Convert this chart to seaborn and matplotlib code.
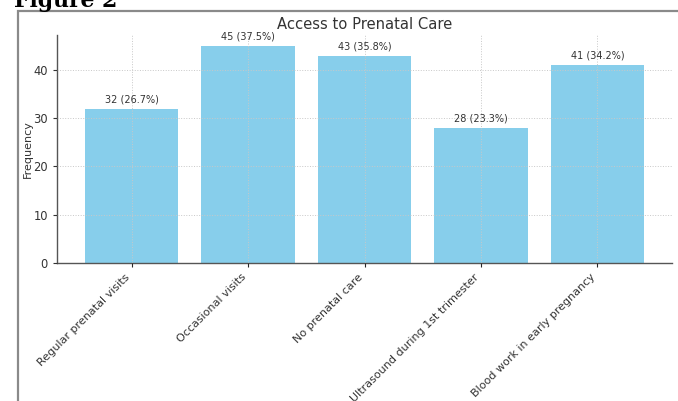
import matplotlib
matplotlib.use("Agg")
import matplotlib.pyplot as plt
import seaborn as sns
import pandas as pd
from matplotlib.patches import Rectangle

categories = ["Regular prenatal visits", "Occasional visits", "No prenatal care",
              "Ultrasound during 1st trimester", "Blood work in early pregnancy"]
counts = [32, 45, 43, 28, 41]
percents = [26.7, 37.5, 35.8, 23.3, 34.2]

df = pd.DataFrame({"category": categories, "count": counts})

sns.set_style("white")
W, H = 678, 401
fig = plt.figure(figsize=(W / 100, H / 100), dpi=100)

# page frame and caption (cropped screenshot look)
fig.patches.append(Rectangle((18 / W, -0.1), 1.0, (H - 11) / H + 0.1, transform=fig.transFigure,
                             fill=False, edgecolor="#8a8a8a", linewidth=1.6))
fig.text(14 / W, (H - 7) / H, "Figure 2", family="DejaVu Serif", fontweight="bold",
         fontsize=15.8, va="baseline", ha="left", color="black")

ax = fig.add_axes([57 / W, 138 / H, (672 - 57) / W, (263 - 35) / H])
sns.barplot(data=df, x="category", y="count", color="#87CEEB", saturation=1,
            width=0.8, linewidth=0, ax=ax)
ax.set_xlim(-0.64, 4.64)
ax.set_ylim(0, 47.25)
ax.set_yticks([0, 10, 20, 30, 40])
for c in ax.containers:
    for bar in c:
        bar.set_zorder(1)
ax.grid(True, linestyle=":", color="#c8c8c8", linewidth=0.7, zorder=2)
ax.set_axisbelow(False)

for i, (v, p) in enumerate(zip(counts, percents)):
    ax.text(i, v + 0.9, f"{v} ({p}%)", ha="center", va="bottom", fontsize=7, color="#333333")

ax.set_title("Access to Prenatal Care", fontsize=10.6, color="#333333", pad=4)
ax.set_xlabel("")
ax.set_ylabel("Frequency", fontsize=8, color="#333333", labelpad=0)
ax.set_xticks(range(len(categories)))
ax.set_xticklabels(categories, rotation=45, ha="right",
                   fontsize=8, color="#333333")
ax.tick_params(axis="y", labelsize=8.3, colors="#333333", length=3, left=True)
ax.tick_params(axis="x", length=3, bottom=True)
for s in ["top", "right"]:
    ax.spines[s].set_visible(False)
for s in ["left", "bottom"]:
    ax.spines[s].set_color("#555555")
    ax.spines[s].set_linewidth(1.0)

fig.savefig("out.png", dpi=100)
